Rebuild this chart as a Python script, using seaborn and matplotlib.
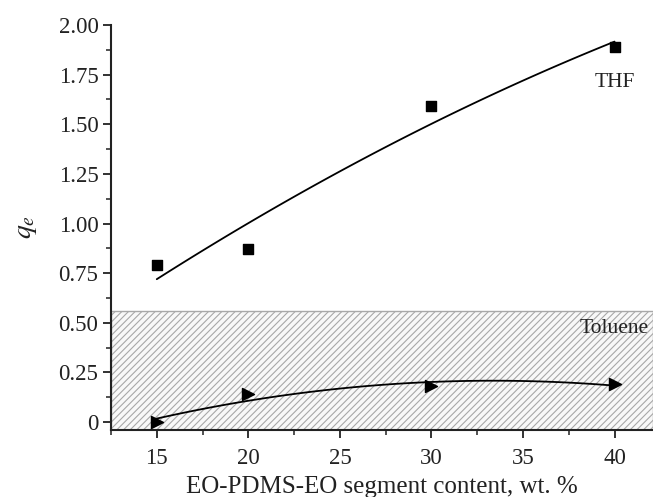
import numpy as np
import pandas as pd
import seaborn as sns
import matplotlib
matplotlib.use('Agg')
import matplotlib.pyplot as plt
from matplotlib.ticker import MultipleLocator

content = [15, 20, 30, 40]
qe_thf = [0.79, 0.87, 1.59, 1.89]
qe_toluene = [0.00, 0.14, 0.18, 0.19]
toluene_zone_top = 0.56

sns.set_theme(style='ticks')
plt.rcParams['font.family'] = ['Liberation Serif', 'DejaVu Serif']
plt.rcParams['mathtext.fontset'] = 'stix'
plt.rcParams['hatch.linewidth'] = 0.8

df = pd.DataFrame({'content': content, 'THF': qe_thf, 'Toluene': qe_toluene})

fig = plt.figure(figsize=(6.53, 4.97), dpi=100)
ax = fig.add_axes([111 / 653, 67 / 497, 542 / 653, 405 / 497])

# shaded Toluene zone
ax.axhspan(-0.04, toluene_zone_top, facecolor='#f8f8f8', edgecolor='#a8a8a8',
           hatch='/////', linewidth=1.0, zorder=0)

sns.regplot(data=df, x='content', y='THF', order=2, ci=None, ax=ax, color='black',
            marker='s', scatter_kws={'s': 42, 'alpha': 1, 'zorder': 3}, line_kws={'lw': 1.3})
sns.regplot(data=df, x='content', y='Toluene', order=2, ci=None, ax=ax, color='black',
            marker='>', scatter_kws={'s': 75, 'alpha': 1, 'zorder': 3}, line_kws={'lw': 1.3})

ax.set_xlim(12.5, 42.1)
ax.set_ylim(-0.04, 2.0)
ax.xaxis.set_major_locator(MultipleLocator(5))
ax.xaxis.set_minor_locator(MultipleLocator(2.5))
ax.yaxis.set_major_locator(MultipleLocator(0.25))
ax.yaxis.set_minor_locator(MultipleLocator(0.125))
ax.yaxis.set_major_formatter(plt.FuncFormatter(lambda v, p: '0' if abs(v) < 1e-9 else '%.2f' % v))

sns.despine(ax=ax)
for s in ['left', 'bottom']:
    ax.spines[s].set_linewidth(1.5)
    ax.spines[s].set_color('#222222')
ax.tick_params(which='major', direction='out', length=6, width=1.3, labelsize=16.5, colors='#222222')
ax.tick_params(which='minor', direction='out', length=3.5, width=1.1, colors='#222222')
ax.tick_params(axis='y', pad=3)
ax.tick_params(axis='x', pad=7)

ax.set_xlabel('EO-PDMS-EO segment content, wt. %', fontsize=18, color='#222222', labelpad=5)
ax.set_ylabel('$q_e$', fontsize=20, color='#222222', labelpad=14)

ax.text(40, 1.71, 'THF', fontsize=15.5, ha='center', va='center', color='#222222')
ax.text(40, 0.47, 'Toluene', fontsize=15.5, ha='center', va='center', color='#222222')

fig.savefig('out.png', dpi=100)
